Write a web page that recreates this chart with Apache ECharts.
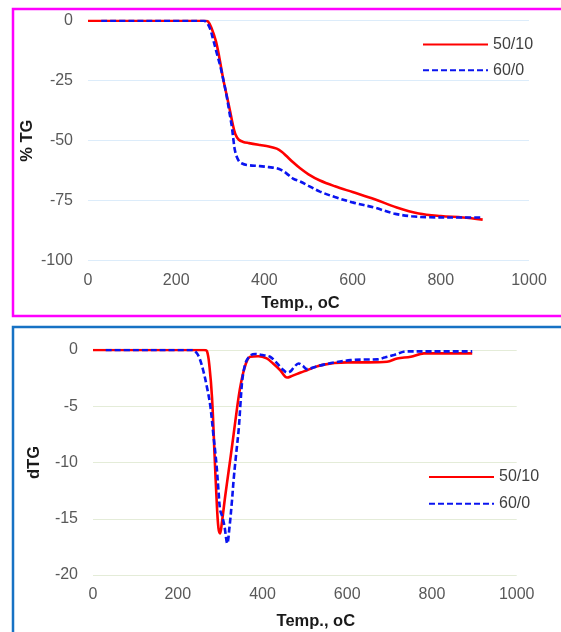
<!DOCTYPE html>
<html>
<head>
<meta charset="utf-8">
<script src="https://cdn.jsdelivr.net/npm/echarts@6/dist/echarts.min.js"></script>
<style>
html,body{margin:0;padding:0;background:#fff;}
#chart{width:561px;height:632px;}
</style>
</head>
<body>
<div id="chart"></div>
<script>
// ---- Data ----
var seriesNames = ['50/10', '60/0'];
var xTicks = [0, 200, 400, 600, 800, 1000];
var tgTicks = [0, -25, -50, -75, -100];
var dtgTicks = [0, -5, -10, -15, -20];

// TG, 50/10
var tgTemp50 = [0, 100, 200, 265, 272, 280, 290, 298, 307, 315, 322, 328, 334, 342, 352, 365, 390, 410, 428, 440, 450, 465, 481, 500, 526, 560, 600, 650, 700, 750, 800, 850, 895];
var tgVal50  = [0, 0, 0, 0, -0.3, -3, -8.5, -15.5, -24.7, -31.5, -37.5, -43, -47.2, -49.6, -50.5, -51, -51.8, -52.4, -53.3, -54.7, -56.4, -59, -61.5, -64, -66.6, -69, -71.4, -74.4, -77.8, -80.3, -81.4, -82, -82.9];
// TG, 60/0
var tgTemp60 = [30, 100, 200, 262, 268, 276, 284, 292, 300, 307, 314, 320, 326, 330, 333, 338, 343, 348, 360, 390, 410, 428, 440, 450, 465, 481, 500, 526, 560, 600, 650, 693, 734, 775, 850, 895];
var tgVal60  = [0, 0, 0, 0, -0.5, -3, -8, -13.5, -19, -24.7, -31, -37.5, -44, -50, -53.9, -57, -58.7, -59.4, -60.1, -60.6, -61, -61.5, -62.4, -63.6, -65.8, -67, -68.8, -71.2, -73.5, -75.7, -77.9, -80.3, -81.5, -81.9, -82, -82];

// DTG, 50/10
var dtgTemp50 = [0, 100, 200, 262, 269, 275, 281, 287, 292, 296, 300, 304, 312, 320, 328, 336, 344, 350, 356, 364, 371, 390, 410, 425, 442, 458, 470, 490, 505, 525, 545, 570, 600, 650, 694, 718, 750, 781, 830, 895];
var dtgVal50  = [0, 0, 0, 0, -0.1, -1.5, -4.3, -9.4, -13.5, -15.8, -16.3, -15.4, -13, -10.8, -8.6, -6.3, -4.1, -2.8, -1.8, -0.9, -0.6, -0.55, -0.75, -1.2, -1.8, -2.45, -2.3, -2.0, -1.8, -1.5, -1.3, -1.15, -1.1, -1.1, -1.05, -0.75, -0.6, -0.3, -0.3, -0.3];
// DTG, 60/0
var dtgTemp60 = [30, 100, 200, 235, 241, 250, 260, 270, 277, 284, 291, 296, 300, 305, 310, 317, 322, 328, 332, 338, 344, 348, 352, 357, 363, 373, 383, 400, 418, 430, 442, 450, 458, 466, 475, 485, 495, 505, 525, 545, 570, 608, 640, 671, 690, 710, 741, 800, 895];
var dtgVal60  = [0, 0, 0, 0, -0.1, -0.6, -1.8, -3.5, -5, -7.5, -10, -12.4, -14.2, -14.8, -15.6, -17.2, -15.8, -13.4, -11.5, -9.2, -7.0, -4.8, -2.8, -1.6, -0.9, -0.45, -0.35, -0.45, -0.6, -1.0, -1.5, -1.8, -2.0, -1.9, -1.5, -1.2, -1.4, -1.7, -1.5, -1.3, -1.1, -0.9, -0.85, -0.83, -0.65, -0.45, -0.12, -0.12, -0.12];

function zip(xs, ys) { return xs.map(function (x, i) { return [x, ys[i]]; }); }

var tickColor = '#595959';
var fontFam = '"Liberation Sans", Arial, sans-serif';

function xAxisCfg(gridIndex, namePad) {
  return {
    type: 'value', gridIndex: gridIndex, min: xTicks[0], max: xTicks[xTicks.length - 1], interval: 200,
    name: 'Temp., oC', nameLocation: 'middle', nameGap: gridIndex === 0 ? 34 : 38,
    nameTextStyle: { fontFamily: fontFam, fontSize: 16.5, fontWeight: 'bold', color: '#1a1a1a', padding: namePad },
    axisLine: { show: false }, axisTick: { show: false },
    axisLabel: { color: tickColor, fontSize: 16, fontFamily: fontFam, margin: 12, formatter: function (v) { return String(v); } },
    splitLine: { show: false }
  };
}
function yAxisCfg(gridIndex, name, ticks, interval, gridColor, gap) {
  return {
    type: 'value', gridIndex: gridIndex, min: ticks[ticks.length - 1], max: ticks[0], interval: interval,
    name: name, nameLocation: 'middle', nameGap: gap, nameRotate: 90, nameMoveOverlap: false,
    nameTextStyle: { fontFamily: fontFam, fontSize: 16.5, fontWeight: 'bold', color: '#1a1a1a' },
    axisLine: { show: false }, axisTick: { show: false },
    axisLabel: { color: tickColor, fontSize: 16, fontFamily: fontFam, margin: 15, formatter: function (v) { return String(v); } },
    splitLine: { show: true, lineStyle: { color: gridColor, width: 1 } }
  };
}
function lineSeries(name, data, xi, yi, dashed) {
  return {
    name: name, type: 'line', xAxisIndex: xi, yAxisIndex: yi, data: data,
    symbol: 'none', smooth: 0.35,
    lineStyle: { color: dashed ? '#0a14f0' : '#ff0000', width: 2.6, type: dashed ? [6, 3] : 'solid' },
    itemStyle: { color: dashed ? '#0a14f0' : '#ff0000' }
  };
}

var legendText = { fontFamily: fontFam, fontSize: 16, color: '#404040', lineHeight: 15 };
var chart = echarts.init(document.getElementById('chart'), null, { renderer: 'canvas' });
chart.setOption({
  backgroundColor: '#ffffff',
  animation: false,
  graphic: [
    { type: 'rect', shape: { x: 13, y: 9, width: 600, height: 307 }, style: { fill: 'none', stroke: '#ff00ff', lineWidth: 2.5 }, silent: true },
    { type: 'rect', shape: { x: 13, y: 327, width: 600, height: 400 }, style: { fill: 'none', stroke: '#1672c4', lineWidth: 2.5 }, silent: true }
  ],
  grid: [
    { left: 88, top: 20.7, width: 441, height: 240 },
    { left: 93, top: 350, width: 423.7, height: 225 }
  ],
  legend: [
    { data: seriesNames, orient: 'vertical', left: 422, top: 36.5, padding: 0, itemWidth: 65, itemHeight: 14, itemGap: 9.7,
      itemStyle: { opacity: 0 }, textStyle: legendText },
    { data: seriesNames, orient: 'vertical', left: 428, top: 469, padding: 0, itemWidth: 65, itemHeight: 14, itemGap: 10.7,
      itemStyle: { opacity: 0 }, textStyle: legendText }
  ],
  xAxis: [ xAxisCfg(0, [0, 16, 0, 0]), xAxisCfg(1, [0, 0, 0, 22]) ],
  yAxis: [
    yAxisCfg(0, '% TG', tgTicks, 25, '#dcecfa', 52),
    yAxisCfg(1, 'dTG', dtgTicks, 5, '#e4ecd8', 50)
  ],
  series: [
    lineSeries(seriesNames[0], zip(tgTemp50, tgVal50), 0, 0, false),
    lineSeries(seriesNames[1], zip(tgTemp60, tgVal60), 0, 0, true),
    lineSeries(seriesNames[0], zip(dtgTemp50, dtgVal50), 1, 1, false),
    lineSeries(seriesNames[1], zip(dtgTemp60, dtgVal60), 1, 1, true)
  ]
});
</script>
</body>
</html>
